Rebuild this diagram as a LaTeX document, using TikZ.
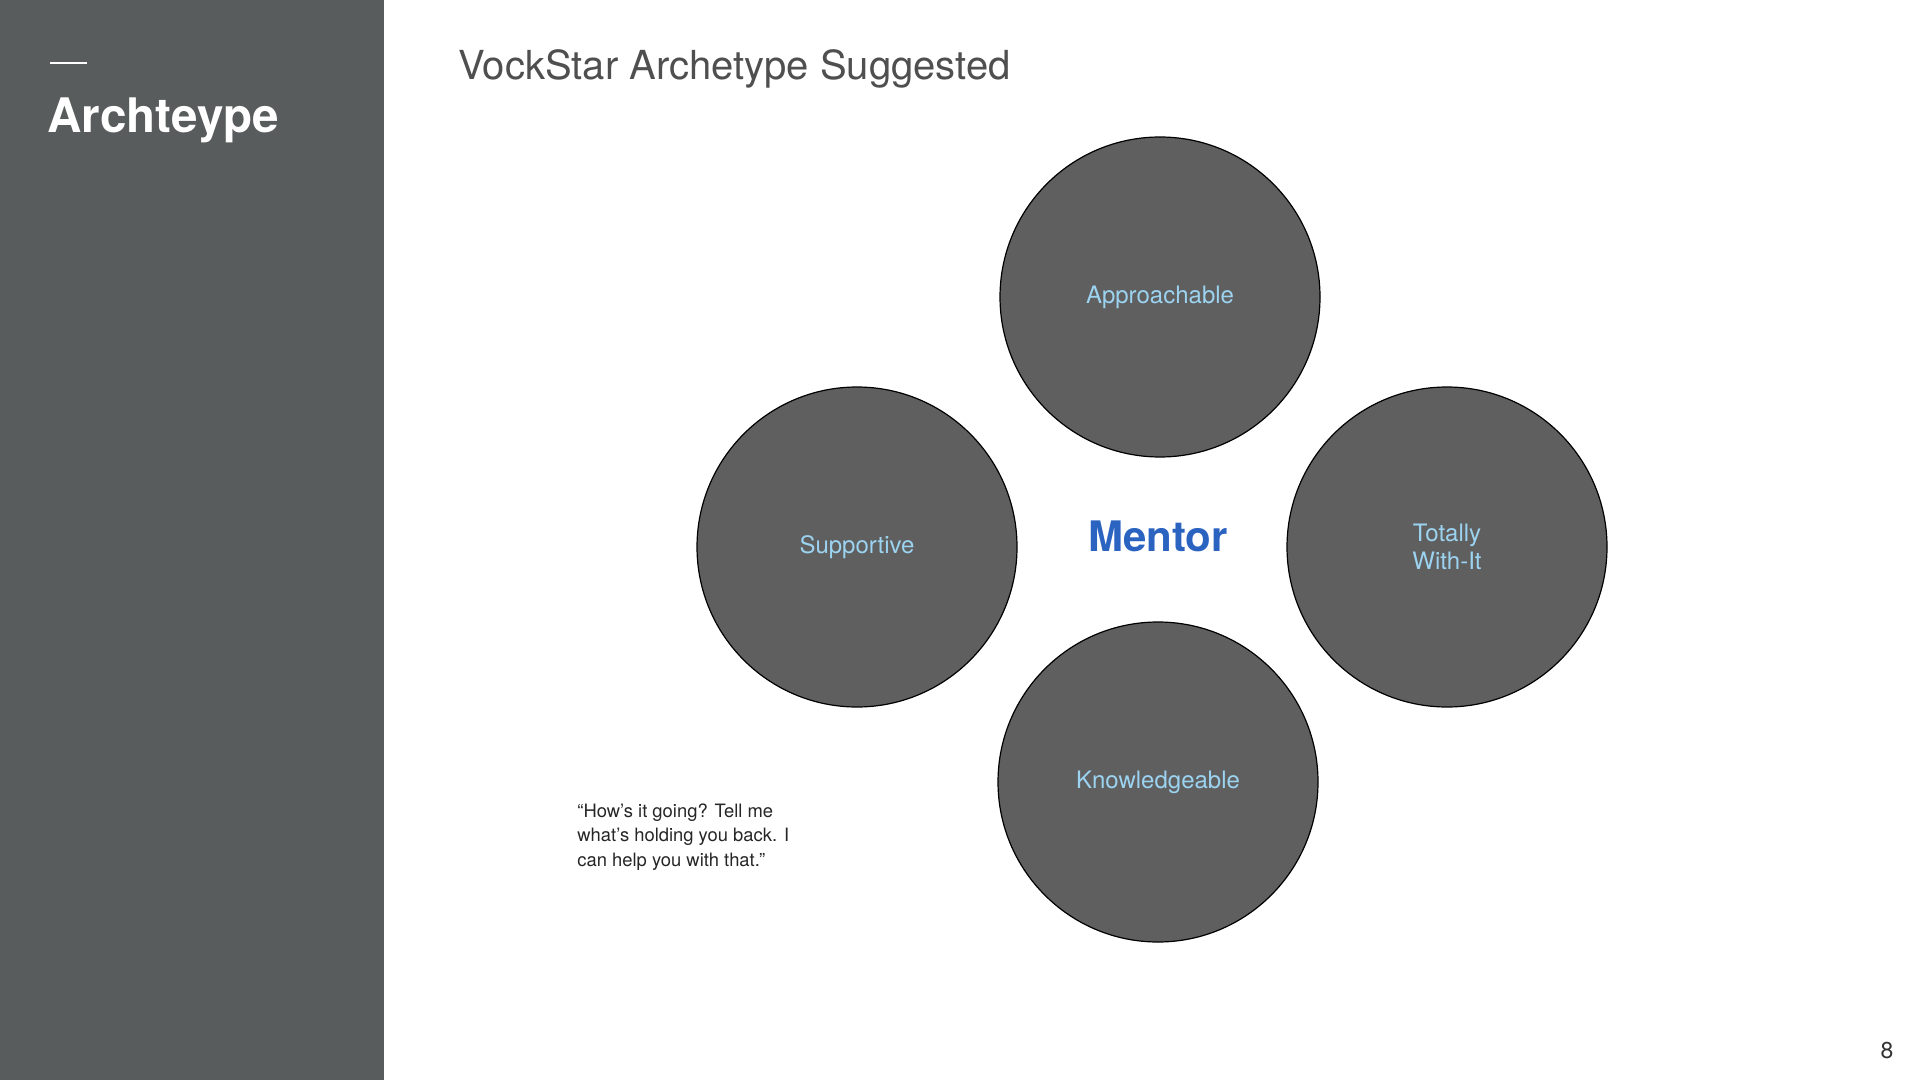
\documentclass[tikz,border=0pt]{standalone}
\usepackage{fontspec}
\setmainfont{TeX Gyre Heros}
\usepackage{tikz}
\usetikzlibrary{positioning}
\definecolor{panelgrey}{HTML}{595C5C}
\definecolor{traitgrey}{HTML}{5F5F5F}
\definecolor{traitblue}{HTML}{9CD3F0}
\definecolor{mentorblue}{HTML}{2B63C1}
\definecolor{headgrey}{HTML}{4F4F4F}

\begin{document}
\begin{tikzpicture}[x=0.5pt,y=-0.5pt,trait/.style={circle,draw=black,line width=0.6pt,fill=traitgrey,minimum size=160pt,inner sep=0pt,text=traitblue,font=\fontsize{12}{14.2}\selectfont,align=center}]
\useasboundingbox (0,0) rectangle (1920,1080);
\fill[white] (0,0) rectangle (1920,1080);
\fill[panelgrey] (0,0) rectangle (384,1080);
\draw[white,line width=1pt] (50,63) -- (87,63);
\node[anchor=base west,inner sep=0pt,text=white,font=\fontsize{23.8}{28}\selectfont\bfseries] (panel) at (47,133) {Archteype};
\node[anchor=base west,inner sep=0pt,text=headgrey,font=\fontsize{20}{24}\selectfont] (heading) at (458,80) {VockStar Archetype Suggested};
% four traits round the archetype
\node[trait] (approachable) at (1160,297) {Approachable};
\node[trait] (supportive) at (857,547) {Supportive};
\node[trait] (withit) at (1447,547) {Totally\\With-It};
\node[trait] (knowledgeable) at (1158,782) {Knowledgeable};
\node[text=mentorblue,font=\fontsize{21}{24}\selectfont\bfseries] (mentor) at (1158,536) {Mentor};
\node[anchor=base west,inner sep=0pt,align=left,text=black!85,font=\fontsize{9.2}{12.2}\selectfont] (quote) at (577,866) {“How’s it going? Tell me\\what’s holding you back. I\\can help you with that.”};
\node[text=black!80,font=\fontsize{11.5}{14}\selectfont] (pagenum) at (1887,1051) {8};
\end{tikzpicture}
\end{document}
